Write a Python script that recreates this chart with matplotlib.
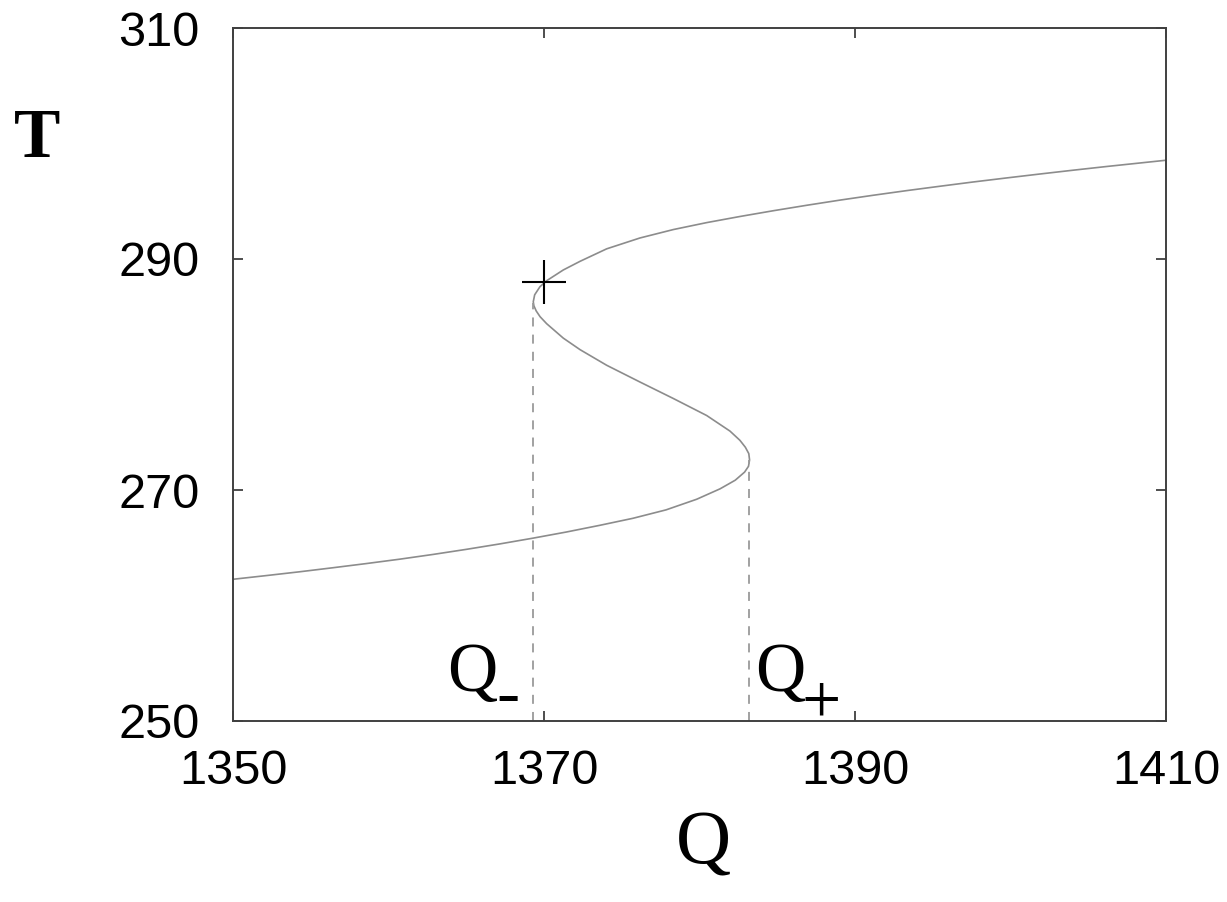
import matplotlib
matplotlib.use("Agg")
import matplotlib.pyplot as plt

# Steady-state temperature T versus solar input Q (S-shaped response curve):
# lower branch -> fold at Q+ -> middle branch -> fold at Q- -> upper branch
curve_Q = [1350.00, 1352.14, 1354.29, 1356.43, 1358.57, 1360.72, 1362.86, 1365.00,
           1367.15, 1369.29, 1371.43, 1373.58, 1375.72, 1377.85, 1379.82, 1381.32,
           1382.30, 1382.90, 1383.15, 1383.22, 1383.17, 1382.95, 1382.60, 1381.96,
           1380.46, 1378.32, 1376.17, 1374.03, 1372.32, 1371.24, 1370.17, 1369.75,
           1369.50, 1369.35, 1369.31, 1369.40, 1369.74, 1370.17, 1371.24, 1372.32,
           1374.03, 1376.17, 1378.32, 1380.46, 1382.60, 1384.75, 1386.89, 1389.04,
           1391.18, 1393.32, 1395.47, 1397.61, 1399.76, 1401.90, 1404.04, 1406.19,
           1410.00]
curve_T = [262.27, 262.59, 262.92, 263.27, 263.63, 264.01, 264.42, 264.86,
           265.33, 265.83, 266.36, 266.94, 267.55, 268.28, 269.20, 270.10,
           270.85, 271.55, 272.05, 272.60, 273.15, 273.70, 274.30, 275.10,
           276.45, 277.92, 279.35, 280.80, 282.15, 283.15, 284.40, 285.00,
           285.50, 285.95, 286.30, 286.90, 287.60, 288.12, 289.05, 289.80,
           290.88, 291.82, 292.55, 293.15, 293.68, 294.18, 294.65, 295.10,
           295.52, 295.92, 296.30, 296.67, 297.02, 297.36, 297.69, 298.01,
           298.55]

# Fold points of the curve
q_minus, t_minus = 1369.3, 286.2
q_plus, t_plus = 1383.2, 272.6

# Marked state on the upper branch
mark_Q, mark_T = 1370.0, 288.0

x_ticks = [1350, 1370, 1390, 1410]
y_ticks = [250, 270, 290, 310]

sans = ["Liberation Sans", "DejaVu Sans"]
serif = ["Liberation Serif", "DejaVu Serif"]

fig = plt.figure(figsize=(12.27, 9.02), dpi=100)
ax = fig.add_axes([233 / 1227, 1 - 721 / 902, (1166 - 233) / 1227, (721 - 28) / 902])

ax.plot(curve_Q, curve_T, color="#8c8c8c", lw=1.2, solid_joinstyle="round",
        solid_capstyle="round")
ax.vlines([q_minus, q_plus], y_ticks[0], [t_minus, t_plus], colors="#9a9a9a",
          linestyles=(0, (5, 4.5)), lw=1.3)
ax.plot([mark_Q], [mark_T], marker="+", color="black", markersize=31.5, mew=1.5)

ax.set_xlim(x_ticks[0], x_ticks[-1])
ax.set_ylim(y_ticks[0], y_ticks[-1])
ax.set_xticks(x_ticks)
ax.set_yticks(y_ticks)
ax.tick_params(direction="in", length=7, width=1.2, color="#303030",
               top=True, right=True, labelsize=35)
ax.tick_params(axis="x", pad=20)
ax.tick_params(axis="y", pad=24)
for lab in ax.get_xticklabels() + ax.get_yticklabels():
    lab.set_fontfamily(sans)
for sp in ax.spines.values():
    sp.set_color("#404040")
    sp.set_linewidth(1.4)

# Axis titles
fig.text(37 / 1227, 1 - 140 / 902, "T", family=serif, fontsize=50,
         fontweight="bold", ha="center", va="center")
fig.text(703 / 1227, 1 - 845 / 902, "Q", family=serif, fontsize=55,
         ha="center", va="center")

# Fold labels
ax.text(1363.74, 252.6, "Q", family=serif, fontsize=50, ha="left", va="baseline")
ax.text(1367.65, 250.54, "-", family=serif, fontsize=50, ha="center", va="baseline")
ax.text(1383.6, 252.6, "Q", family=serif, fontsize=50, ha="left", va="baseline")
ax.text(1387.81, 249.9, "+", family=serif, fontsize=50, ha="center", va="baseline",
        clip_on=False)

fig.savefig("out.png", dpi=100)
